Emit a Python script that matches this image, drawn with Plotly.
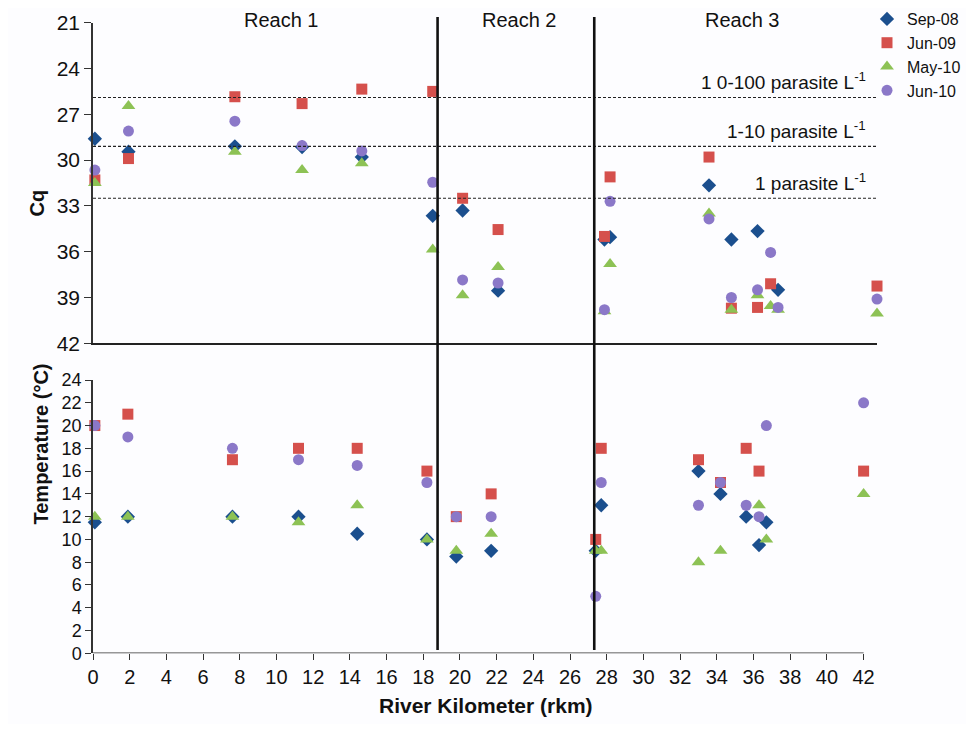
import plotly.graph_objects as go

# River kilometre of each sampling site
sites = [0.1, 1.9, 7.6, 11.2, 14.4, 18.2, 19.8, 21.7, 27.4, 27.7, 33.0, 34.2, 35.6, 36.3, 36.7, 42.0]

series_names = ["Sep-08", "Jun-09", "May-10", "Jun-10"]

# Cq values (top panel)
cq_sep08 = [28.6, 29.45, 29.1, 29.15, 29.8, 33.65, 33.3, 38.55, 35.2, 35.05, 31.65, 35.2, 34.65, None, 38.5, None]
cq_jun09 = [31.3, 29.9, 25.85, 26.3, 25.35, 25.5, 32.5, 34.55, 35.0, 31.1, 29.8, 39.7, 39.65, 38.1, None, 38.25]
cq_may10 = [31.5, 26.45, 29.45, 30.65, 30.2, 35.85, 38.85, 37.0, 39.9, 36.8, 33.5, 39.8, 38.85, 39.55, 39.8, 40.05]
cq_jun10 = [30.65, 28.1, 27.45, 29.05, 29.4, 31.45, 37.85, 38.05, 39.8, 32.7, 33.85, 39.0, 38.5, 36.05, 39.65, 39.1]

# Temperature values (bottom panel)
t_sep08 = [11.5, 12, 12, 12, 10.5, 10, 8.5, 9, 9, 13, 16, 14, 12, 9.5, 11.5, None]
t_jun09 = [20, 21, 17, 18, 18, 16, 12, 14, 10, 18, 17, 15, 18, 16, None, 16]
t_may10 = [12, 12, 12, 11.5, 13, 10, 9, 10.5, 9, 9, 8, 9, None, 13, 10, 14]
t_jun10 = [20, 19, 18, 17, 16.5, 15, 12, 12, 5, 15, 13, 15, 13, 12, 20, 22]

# Detection thresholds (Cq) and their labels
threshold_cq = [25.9, 29.1, 32.5]
threshold_labels = ["1 0-100 parasite L<sup>-1</sup>", "1-10 parasite L<sup>-1</sup>", "1 parasite L<sup>-1</sup>"]

# Reach boundaries (rkm) and labels
reach_bounds = [18.78, 27.32]
reach_labels = ["Reach 1", "Reach 2", "Reach 3"]

cq_ticks = [21, 24, 27, 30, 33, 36, 39, 42]
t_ticks = list(range(0, 25, 2))
x_ticks = list(range(0, 43, 2))

cq_data = [cq_sep08, cq_jun09, cq_may10, cq_jun10]
t_data = [t_sep08, t_jun09, t_may10, t_jun10]
colors = ["#1B4F8E", "#D5504C", "#8DC255", "#8B78C8"]
symbols = ["diamond", "square", "triangle-up", "circle"]
sizes = [11, 11, 12, 11]

FONT = "Liberation Sans, Arial, sans-serif"
OFF = 8  # page body margin
W, H = 974 - 2 * OFF, 732 - 2 * OFF


def px(xp):
    return (xp - OFF) / W


def py(yp):
    return (H - (yp - OFF)) / H


fig = go.Figure()
for name, cq, t, c, s, sz in zip(series_names, cq_data, t_data, colors, symbols, sizes):
    fig.add_trace(go.Scatter(x=sites, y=cq, mode="markers", name=name, xaxis="x", yaxis="y",
                             marker=dict(color=c, symbol=s, size=sz, line=dict(width=0)),
                             cliponaxis=False))
    fig.add_trace(go.Scatter(x=sites, y=t, mode="markers", name=name, xaxis="x2", yaxis="y2",
                             marker=dict(color=c, symbol=s, size=sz, line=dict(width=0)),
                             cliponaxis=False, showlegend=False))

# threshold dotted lines and labels
for v, lab in zip(threshold_cq, threshold_labels):
    fig.add_shape(type="line", xref="x", yref="y", x0=0, x1=42, y0=v, y1=v,
                  line=dict(color="#222222", width=1.2, dash="3px,2px"))
    fig.add_annotation(xref="paper", yref="y", x=px(868), y=v - 1.05, text=lab, showarrow=False,
                       xanchor="right", yanchor="middle", font=dict(size=19, color="#111111", family=FONT))

# reach boundary lines
for b in reach_bounds:
    fig.add_shape(type="line", xref="x2", yref="paper", x0=b, x1=b, y0=py(650), y1=py(17),
                  line=dict(color="#111111", width=2.6))

# bottom x-axis line from 0 to 42
fig.add_shape(type="line", xref="x2", yref="y2", x0=0, x1=42, y0=0, y1=0,
              line=dict(color="#333333", width=1.5))

reach_px = [281, 520, 742]
for rx, lab in zip(reach_px, reach_labels):
    fig.add_annotation(xref="paper", yref="paper", x=px(rx), y=py(20), text=lab, showarrow=False,
                       xanchor="center", yanchor="middle", font=dict(size=20, color="#111111", family=FONT))

# axis titles as annotations
fig.add_annotation(xref="paper", yref="paper", x=px(23), y=py(188), text="<b>Cq</b>", showarrow=False,
                   textangle=-90, font=dict(size=20, color="#111111", family=FONT))
fig.add_annotation(xref="paper", yref="paper", x=px(27), y=py(527), text="<b>Temperature (°C)</b>",
                   showarrow=False, textangle=-90, font=dict(size=20, color="#111111", family=FONT))
fig.add_annotation(xref="paper", yref="paper", x=px(486), y=py(719), text="<b>River Kilometer (rkm)</b>",
                   showarrow=False, font=dict(size=21, color="#111111", family=FONT))

xdom = [px(93), px(877)]
fig.update_layout(
    template="none",
    width=W, height=H,
    margin=dict(l=0, r=0, t=0, b=0, autoexpand=False),
    paper_bgcolor="#FDFDFF", plot_bgcolor="#FDFDFF",
    font=dict(family=FONT, color="#111111"),
    showlegend=True,
    legend=dict(x=1.0, y=py(2), xanchor="right", yanchor="top", bgcolor="rgba(0,0,0,0)",
                font=dict(size=16, family=FONT, color="#111111"), itemwidth=30, tracegroupgap=0),
    xaxis=dict(domain=xdom, range=[0, 42], anchor="y", showticklabels=False, ticks="",
               showline=True, linecolor="#222222", linewidth=1.5, showgrid=False, zeroline=False,
               automargin=False),
    yaxis=dict(domain=[py(343.3), py(22.7)], range=[42, 21], tickvals=cq_ticks, ticks="outside", ticklen=7,
               tickcolor="#333333", tickwidth=1.2, showline=True, linecolor="#333333", linewidth=1.5,
               showgrid=False, zeroline=False, automargin=False,
               tickfont=dict(size=21, family=FONT, color="#111111")),
    xaxis2=dict(domain=xdom, range=[0, 42.73], anchor="y2", tickvals=x_ticks, ticks="outside", ticklen=6,
                tickcolor="#333333", tickwidth=1.2, showline=False, showgrid=False, zeroline=False,
                automargin=False, tickfont=dict(size=20, family=FONT, color="#111111")),
    yaxis2=dict(domain=[py(653.3), py(380)], range=[0, 24], tickvals=t_ticks, ticks="outside", ticklen=6,
                tickcolor="#333333", tickwidth=1.2, showline=True, linecolor="#333333", linewidth=1.5,
                showgrid=False, zeroline=False, automargin=False,
                tickfont=dict(size=18, family=FONT, color="#111111")),
)

fig.write_html("out.html")
